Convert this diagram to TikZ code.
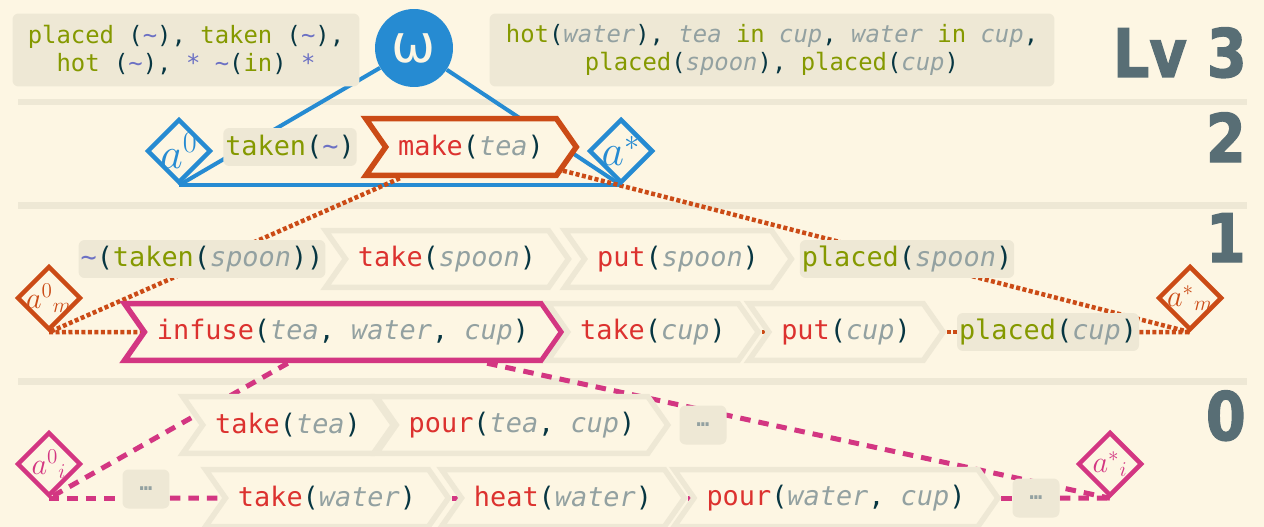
\documentclass[tikz,border=0pt]{standalone}
\usepackage{fontspec}
\usepackage{graphicx}
\usetikzlibrary{shapes.geometric,shapes.symbols}
\newfontfamily\codefont{DejaVu Sans Mono}
\newfontfamily\lvfont[BoldFeatures={FakeBold=2}]{DejaVu Sans}
\newfontfamily\omegafont{DejaVu Sans}
\definecolor{bgc}{HTML}{FDF6E3}
\definecolor{boxc}{HTML}{EEE8D5}
\definecolor{dark}{HTML}{073642}
\definecolor{objc}{HTML}{93A1A1}
\definecolor{grn}{HTML}{859900}
\definecolor{redc}{HTML}{DC322F}
\definecolor{orc}{HTML}{CB4B16}
\definecolor{mag}{HTML}{D33682}
\definecolor{blu}{HTML}{268BD2}
\definecolor{vio}{HTML}{6C71C4}
\definecolor{lvc}{HTML}{586E75}
\pgfdeclarelayer{bg}
\pgfdeclarelayer{lines}
\pgfsetlayers{bg,lines,main}
\newcommand\act[1]{\textcolor{redc}{#1}}
\newcommand\prd[1]{\textcolor{grn}{#1}}
\newcommand\obj[1]{\textcolor{objc}{\itshape #1}}
\newcommand\tld{\textcolor{vio}{\textasciitilde}}
\newcommand\anyst{\textcolor{vio}{*}}
\tikzset{
  code/.style={font=\codefont\fontsize{15.3}{18}\selectfont, text=dark},
  cond/.style={code, fill=boxc, rounded corners=0.12cm, inner xsep=0.04cm, inner ysep=0pt, minimum height=0.76cm},
  chev/.style={code, signal, signal from=west, signal to=east, signal pointer angle=110,
    draw=boxc, line width=0.11cm, fill=bgc, inner xsep=0.25cm, inner ysep=0pt, minimum height=1.14cm},
  ellip/.style={fill=boxc, rounded corners=0.12cm, minimum width=0.94cm, minimum height=0.78cm,
    text=objc, font=\codefont\bfseries\fontsize{12}{12}\selectfont},
  endpt/.style={diamond, draw=#1, text=#1, fill=bgc, line width=0.09cm, minimum size=1.28cm, inner sep=-0.12cm},
  lvl/.style={anchor=base east, text=lvc, font=\lvfont\bfseries\fontsize{38}{38}\selectfont},
  rule/.style={draw=boxc, line width=0.14cm},
  lv2line/.style={draw=blu, line width=0.08cm},
  lv1line/.style={draw=orc, line width=0.09cm, dash pattern=on 0.08cm off 0.05cm},
  lv0line/.style={draw=mag, line width=0.1cm, dash pattern=on 0.21cm off 0.16cm}
}
\begin{document}
\begin{tikzpicture}[x=0.02cm,y=-0.02cm]
\useasboundingbox (0,0) rectangle (1264,527);
\begin{pgfonlayer}{bg}
\fill[bgc] (0,0) rectangle (1264,527);
\draw[rule] (18,102) -- (1247,102);
\draw[rule] (18,205) -- (1247,205);
\draw[rule] (18,381) -- (1247,381);
\end{pgfonlayer}

\node[cond, align=center, font=\codefont\fontsize{13.6}{16}\selectfont, minimum width=6.94cm, minimum height=1.46cm] (topL) at (186,50)
  {\prd{placed} (\tld), \prd{taken} (\tld),\\ \prd{hot} (\tld), \anyst{} \tld(\prd{in}) \anyst};
\node[circle, fill=blu, minimum size=1.56cm, inner sep=0pt, text=bgc, font=\omegafont\fontsize{30}{30}\selectfont] (omega) at (414,48) {ω};
\node[cond, align=center, font=\codefont\fontsize{13.6}{16}\selectfont, minimum width=11.3cm, minimum height=1.46cm] (topR) at (772,50)
  {\prd{hot}(\obj{water}), \obj{tea} \prd{in} \obj{cup}, \obj{water} \prd{in} \obj{cup},\\ \prd{placed}(\obj{spoon}), \prd{placed}(\obj{cup})};
\node[lvl] (lv3) at (1253,77) {\scalebox{0.86}[1]{Lv 3}};

\node[endpt=blu, font=\fontsize{26}{26}\selectfont] (a0top) at (179,151) {$a^0$};
\node[cond] (takenTop) at (290,147) {\prd{taken}(\tld)};
\node[chev, draw=orc] (make) at (471,147) {\act{make}(\obj{tea})};
\node[endpt=blu, font=\fontsize{26}{26}\selectfont] (aStop) at (621,151) {$a^*$};
\node[lvl] (lv2) at (1252,162) {\scalebox{0.86}[1]{2}};

\node[cond] (notTaken) at (202,259) {\tld(\prd{taken}(\obj{spoon}))};
\node[chev] (takeSpoon) at (447,259) {\act{take}(\obj{spoon})};
\node[chev] (putSpoon) at (678,259) {\act{put}(\obj{spoon})};
\node[cond] (placedSpoon) at (907,259) {\prd{placed}(\obj{spoon})};
\node[endpt=orc, font=\fontsize{17}{17}\selectfont] (a0m) at (49,298) {$a^{0}{}_{m}$};
\node[chev, draw=mag] (infuse) at (343,332) {\act{infuse}(\obj{tea}, \obj{water}, \obj{cup})};
\node[chev] (takeCup) at (653,332) {\act{take}(\obj{cup})};
\node[chev] (putCup) at (846,332) {\act{put}(\obj{cup})};
\node[cond] (placedCup) at (1048,332) {\prd{placed}(\obj{cup})};
\node[endpt=orc, font=\fontsize{17}{17}\selectfont] (aSm) at (1190,298) {$a^{*}{}_{m}$};
\node[lvl] (lv1) at (1252,262) {\scalebox{0.86}[1]{1}};

\node[chev] (takeTea) at (288,425) {\act{take}(\obj{tea})};
\node[chev] (pourTea) at (522,425) {\act{pour}(\obj{tea}, \obj{cup})};
\node[ellip] (dotsA) at (703,425) {…};
\node[endpt=mag, font=\fontsize{17}{17}\selectfont] (a0i) at (49,464) {$a^{0}{}_{i}$};
\node[ellip] (dotsB) at (146,489) {…};
\node[chev] (takeWater) at (327,498) {\act{take}(\obj{water})};
\node[chev] (heatWater) at (563,498) {\act{heat}(\obj{water})};
\node[chev] (pourWater) at (836,498) {\act{pour}(\obj{water}, \obj{cup})};
\node[ellip] (dotsC) at (1036,498) {…};
\node[endpt=mag, font=\fontsize{17}{17}\selectfont] (aSi) at (1110,464) {$a^{*}{}_{i}$};
\node[lvl] (lv0) at (1252,440) {\scalebox{0.86}[1]{0}};

\begin{pgfonlayer}{lines}
\draw[lv2line] (omega) -- (a0top.south);
\draw[lv2line] (omega) -- (aStop.south);
\draw[lv2line] (a0top.south) -- (aStop.south);
\draw[lv1line] (make) -- (a0m.south);
\draw[lv1line] (make) -- (aSm.south);
\draw[lv1line] (a0m.south) -- (infuse.west);
\draw[lv1line] (infuse.east) -- (takeCup.west);
\draw[lv1line] (takeCup.east) -- (putCup.west);
\draw[lv1line] (putCup.east) -- (placedCup.west);
\draw[lv1line] (placedCup.east) -- (aSm.south);
\draw[lv0line] (infuse) -- (a0i.south);
\draw[lv0line] (infuse) -- (aSi.south);
\draw[lv0line] (a0i.south) -- (dotsB.west |- a0i.south);
\draw[lv0line] (dotsB.east |- a0i.south) -- (takeWater.west);
\draw[lv0line] (takeWater.east) -- (heatWater.west);
\draw[lv0line] (heatWater.east) -- (pourWater.west);
\draw[lv0line] (pourWater.east) -- (dotsC.west);
\draw[lv0line] (dotsC.east) -- (aSi.south);
\end{pgfonlayer}
\end{tikzpicture}
\end{document}
